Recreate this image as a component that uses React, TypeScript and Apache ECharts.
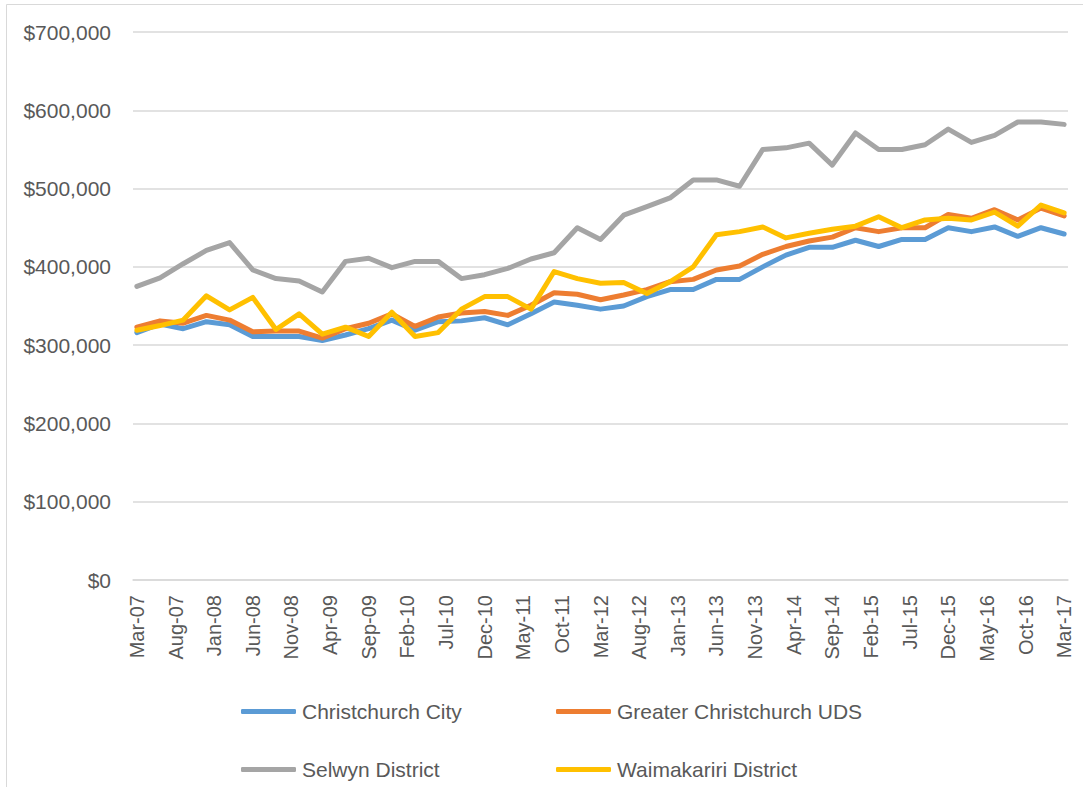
import React, { useEffect, useRef } from "react";
import * as echarts from "echarts";

const MONTHS = ["Jan", "Feb", "Mar", "Apr", "May", "Jun", "Jul", "Aug", "Sep", "Oct", "Nov", "Dec"];
const START_YEAR = 2007;
const START_MONTH = 2; // March
const MONTH_COUNT = 121; // Mar-07 .. Mar-17
const QUARTER_STEP = 3;

const seriesNames = ["Christchurch City", "Greater Christchurch UDS", "Selwyn District", "Waimakariri District"];
const seriesColors = ["#5B9BD5", "#ED7D31", "#A5A5A5", "#FFC000"];

const christchurchCity = [316000, 327000, 321000, 330000, 326000, 311000, 311000, 311000, 306000, 313000, 321000, 332000, 319000, 330000, 331000, 335000, 326000, 340000, 355000, 351000, 346000, 350000, 362000, 371000, 371000, 384000, 384000, 400000, 415000, 425000, 425000, 434000, 426000, 435000, 435000, 450000, 445000, 451000, 439000, 450000, 442000];
const greaterChristchurchUDS = [323000, 331000, 328000, 338000, 332000, 317000, 318000, 318000, 309000, 321000, 328000, 340000, 324000, 336000, 341000, 343000, 338000, 351000, 367000, 365000, 358000, 364000, 371000, 381000, 384000, 396000, 401000, 416000, 426000, 433000, 438000, 450000, 445000, 450000, 450000, 467000, 462000, 473000, 460000, 475000, 465000];
const selwynDistrict = [375000, 386000, 404000, 421000, 431000, 396000, 385000, 382000, 368000, 407000, 411000, 399000, 407000, 407000, 385000, 390000, 398000, 410000, 418000, 450000, 435000, 466000, 477000, 488000, 511000, 511000, 503000, 550000, 552000, 558000, 530000, 571000, 550000, 550000, 556000, 576000, 559000, 568000, 585000, 585000, 582000];
const waimakaririDistrict = [319000, 325000, 332000, 363000, 345000, 361000, 320000, 340000, 314000, 323000, 311000, 342000, 311000, 316000, 346000, 362000, 362000, 346000, 394000, 385000, 379000, 380000, 366000, 381000, 400000, 441000, 445000, 451000, 437000, 443000, 448000, 452000, 464000, 450000, 460000, 462000, 460000, 470000, 452000, 479000, 469000];

const allSeries = [christchurchCity, greaterChristchurchUDS, selwynDistrict, waimakaririDistrict];

const yTicks = { min: 0, max: 700000, interval: 100000 };

function monthLabel(i: number): string {
  const total = START_MONTH + i;
  const y = START_YEAR + Math.floor(total / 12);
  const m = total % 12;
  return `${MONTHS[m]}-${String(y % 100).padStart(2, "0")}`;
}

const monthCategories = Array.from({ length: MONTH_COUNT }, (_, i) => monthLabel(i));

const FONT = "Liberation Sans";
const TEXT_COLOR = "#595959";
const GRID_COLOR = "#D9D9D9";

export default function App() {
  const ref = useRef<HTMLDivElement>(null);

  useEffect(() => {
    if (!ref.current) return;
    const chart = echarts.init(ref.current, null, { renderer: "svg" });

    const legendPos = [
      { left: 241, top: 701 },
      { left: 556, top: 701 },
      { left: 241, top: 759 },
      { left: 556, top: 759 },
    ];

    chart.setOption({
      animation: false,
      backgroundColor: "#ffffff",
      textStyle: { fontFamily: FONT },
      graphic: [
        {
          type: "rect",
          left: 4,
          top: 2,
          shape: { x: 0, y: 0, width: 1200, height: 900 },
          style: { fill: "none", stroke: GRID_COLOR, lineWidth: 1 },
          silent: true,
        },
      ],
      grid: { left: 133, right: 15, top: 32, bottom: 207, containLabel: false },
      legend: seriesNames.map((name, i) => ({
        data: [name],
        left: legendPos[i].left,
        top: legendPos[i].top,
        padding: 0,
        icon: "roundRect",
        itemWidth: 55,
        itemHeight: 5,
        selectedMode: false,
        textStyle: { fontFamily: FONT, fontSize: 21, color: TEXT_COLOR, padding: [0, 0, 0, 1] },
      })),
      xAxis: {
        type: "category",
        data: monthCategories,
        boundaryGap: true,
        axisLine: { lineStyle: { color: GRID_COLOR, width: 1.5 } },
        axisTick: { show: false },
        axisLabel: {
          interval: 4,
          rotate: 90,
          margin: 15,
          fontFamily: FONT,
          fontSize: 20,
          color: TEXT_COLOR,
        },
        splitLine: { show: false },
      },
      yAxis: {
        type: "value",
        min: yTicks.min,
        max: yTicks.max,
        interval: yTicks.interval,
        axisLine: { show: false },
        axisTick: { show: false },
        axisLabel: {
          margin: 22,
          fontFamily: FONT,
          fontSize: 21,
          color: TEXT_COLOR,
          formatter: (v: number) => "$" + v.toLocaleString("en-US"),
        },
        splitLine: { lineStyle: { color: GRID_COLOR, width: 1.5 } },
      },
      series: seriesNames.map((name, si) => ({
        name,
        type: "line",
        symbol: "none",
        color: seriesColors[si],
        lineStyle: { width: 5, color: seriesColors[si], cap: "round", join: "round" },
        data: allSeries[si].map((v, qi) => [monthCategories[qi * QUARTER_STEP], v]),
      })),
    });

    return () => chart.dispose();
  }, []);

  return (
    <div
      ref={ref}
      style={{ position: "absolute", left: 0, top: 0, width: 1083, height: 787 }}
    />
  );
}
